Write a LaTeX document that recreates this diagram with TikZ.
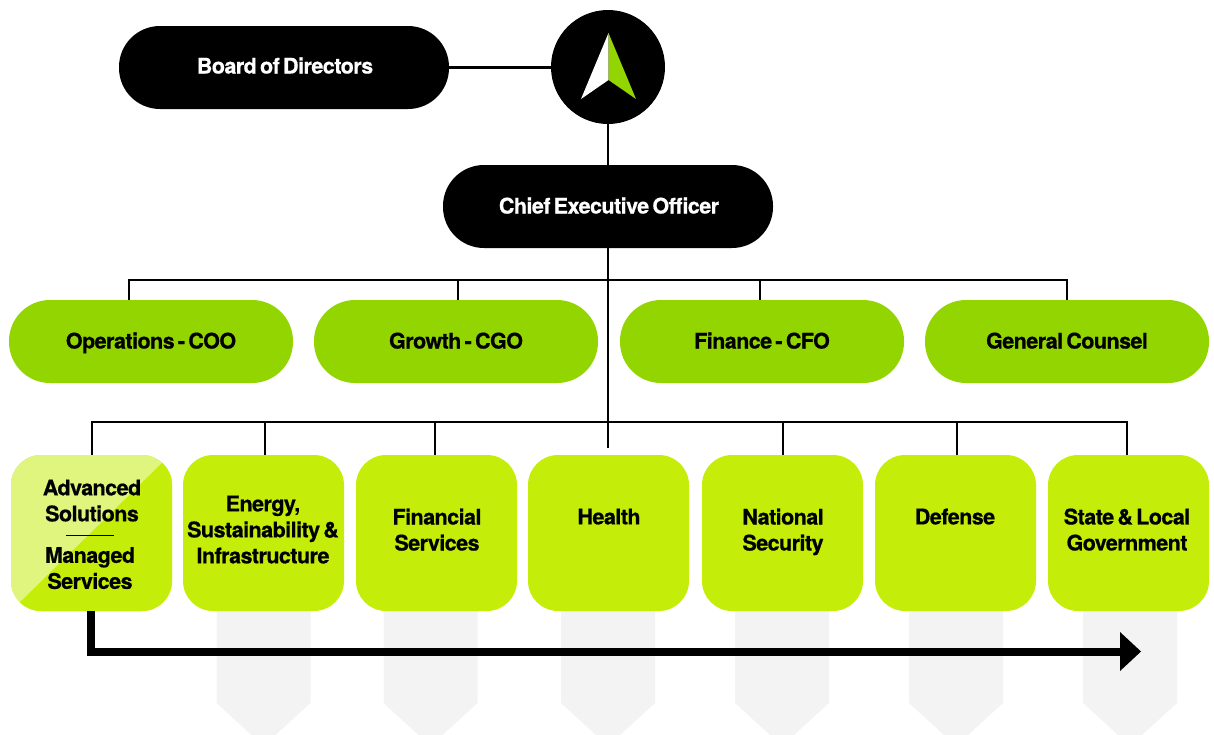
\documentclass[tikz,border=0pt]{standalone}
\usepackage{fontspec}
\setmainfont[LetterSpace=-2.5,WordSpace=0.6,BoldFeatures={FakeBold=0.6}]{TeX Gyre Heros}
\definecolor{pillgreen}{HTML}{93D500}
\definecolor{boxgreen}{HTML}{C4EE0A}
\definecolor{lightgreen}{HTML}{E0F57E}
\definecolor{ghost}{HTML}{F3F3F3}
\newcommand{\textprop}{\rule[-5pt]{0pt}{19pt}}
\tikzset{
  x=1pt,y=-1pt,
  pill/.style={rounded corners=41pt,minimum height=83pt,inner sep=0pt,outer sep=0pt,text height=19pt,text depth=5pt,font=\fontsize{21.5}{26}\selectfont\bfseries},
  darkpill/.style={pill,fill=black,text=white,minimum width=330pt},
  greenpill/.style={pill,fill=pillgreen,text=black,minimum width=284pt},
  unitbox/.style={rounded corners=30pt,fill=boxgreen,minimum width=161pt,minimum height=156pt,inner sep=0pt,outer sep=0pt},
  unittext/.style={align=center,inner sep=0pt,text=black,font=\fontsize{21.5}{26}\selectfont\bfseries,execute at begin node=\textprop,execute at end node=\textprop},
  link/.style={draw=black,line width=2.8pt},
  flow/.style={draw=black,line width=8pt},
  ghostarrow/.style={fill=ghost,draw=none}
}
\newcommand{\ghostshape}[1]{\fill[ghostarrow] (#1-47,611) -- (#1+47,611) -- (#1+47,703) -- (#1,746) -- (#1-47,703) -- cycle;}
\begin{document}
\begin{tikzpicture}
\useasboundingbox (0,0) rectangle (1214,734);
\begin{scope}
\clip (0,0) rectangle (1214,734);
\ghostshape{263.5}
\ghostshape{430.5}
\ghostshape{608}
\ghostshape{782}
\ghostshape{956}
\ghostshape{1130}
\end{scope}

% coordinates of the connector bus
\coordinate (topbus) at (608,280);
\coordinate (lowbus) at (608,422);
\coordinate (stem) at (608,448);

\node[darkpill] (board) at (284,67.5) {};
\node[font=\fontsize{21.5}{26}\selectfont\bfseries,text=white,inner sep=0pt,text height=19pt,text depth=5pt] (boardtext) at (285,66.5) {Board of Directors};
\node[circle,fill=black,minimum size=114pt,inner sep=0pt,outer sep=0pt] (logo) at (608,67) {};
\fill[white] (608.5,33) -- (581,99) -- (608.5,80) -- cycle;
\fill[pillgreen] (608.5,33) -- (636,99) -- (608.5,80) -- cycle;
\node[darkpill] (ceo) at (608,206.5) {};
\node[font=\fontsize{21.5}{26}\selectfont\bfseries,text=white,inner sep=0pt,text height=19pt,text depth=5pt] (ceotext) at (609,206.5) {Chief Executive Officer};

\node[greenpill] (coo) at (151,341.5) {Operations - COO};
\node[greenpill] (cgo) at (456,341.5) {Growth - CGO};
\node[greenpill] (cfo) at (762,341.5) {Finance - CFO};
\node[greenpill] (gc) at (1067,341.5) {General Counsel};

\node[unitbox] (u1) at (91.5,533) {};
\fill[lightgreen,rounded corners=30pt] (11,455) rectangle (172,611);
\begin{scope}
\clip (172,453.2) -- (172,611) -- (11,611) -- cycle;
\fill[boxgreen,rounded corners=30pt] (11,455) rectangle (172,611);
\end{scope}
\node[unitbox] (u2) at (263.5,533) {};
\node[unitbox] (u3) at (436.5,533) {};
\node[unitbox] (u4) at (608.5,533) {};
\node[unitbox] (u5) at (782.5,533) {};
\node[unitbox] (u6) at (955.5,533) {};
\node[unitbox] (u7) at (1128.5,533) {};

\node[unittext] (t1a) at (92,503) {Advanced\\Solutions};
\node[unittext] (t1b) at (90,570.5) {Managed\\Services};
\draw[black,line width=0.8pt] (66,535.5) -- (114,535.5);
\node[unittext] (t2) at (263,532) {Energy,\\Sustainability \&\\Infrastructure};
\node[unittext] (t3) at (437,532) {Financial\\Services};
\node[unittext] (t4) at (609,519) {Health};
\node[unittext] (t5) at (783,532) {National\\Security};
\node[unittext] (t6) at (955,519) {Defense};
\node[unittext] (t7) at (1127,532) {State \& Local\\Government};

% connectors
\draw[link] (board.east) -- (board.east -| logo.west);
\draw[link] (logo.south) -- (ceo.north);
\draw[link] (ceo.south) -- (stem);
\draw[link] (coo.north -| 129,0) |- (topbus);
\draw[link] (cgo.north -| 458,0) |- (topbus);
\draw[link] (cfo.north -| 760,0) |- (topbus);
\draw[link] (gc.north) |- (topbus);
\draw[link] (u1.north -| 92,0) |- (lowbus);
\draw[link] (u2.north -| 265,0) |- (lowbus);
\draw[link] (u3.north -| 435,0) |- (lowbus);
\draw[link] (u5.north -| 783,0) |- (lowbus);
\draw[link] (u6.north -| 957,0) |- (lowbus);
\draw[link] (u7.north -| 1127,0) |- (lowbus);

\coordinate (flowend) at (1122,651.5);
\draw[flow] (u1.south -| 91,0) |- (flowend);
\fill[black] (1120,632) -- (1141,651.5) -- (1120,671) -- cycle;
\end{tikzpicture}
\end{document}
